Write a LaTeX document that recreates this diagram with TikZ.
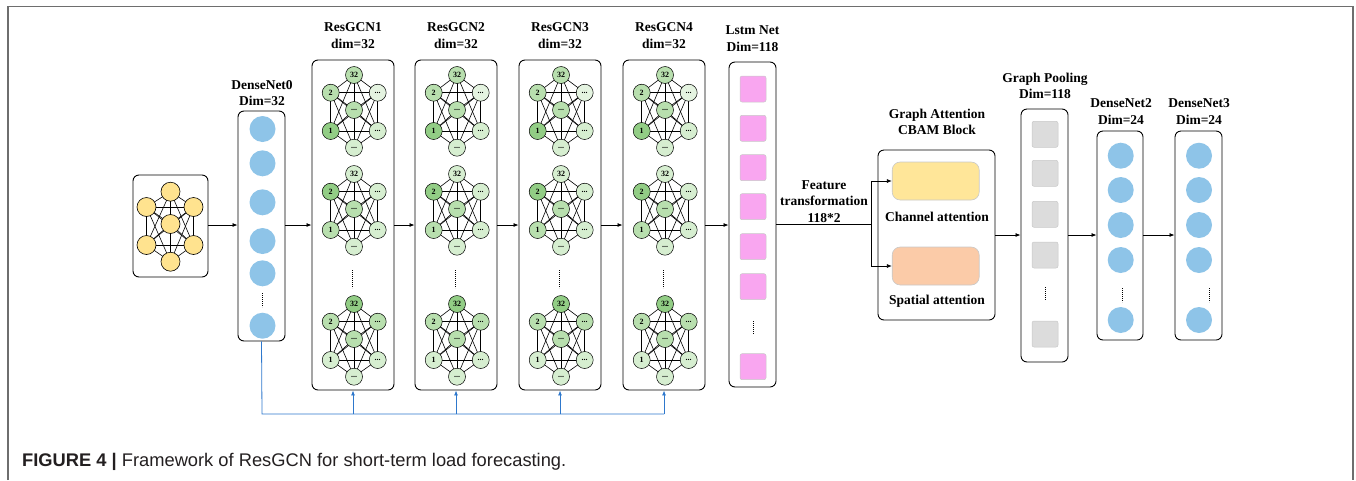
\documentclass[tikz,border=0pt]{standalone}
\usepackage{fontspec}
\setmainfont{Liberation Serif}
\newfontfamily\capfont{Liberation Sans}
\usetikzlibrary{arrows.meta}
\pgfdeclarelayer{bg}
\pgfsetlayers{bg,main}
\definecolor{dblue}{HTML}{8EC4E8}
\definecolor{pinkq}{HTML}{F9A6F0}
\definecolor{grayq}{HTML}{DCDCDC}
\definecolor{qborder}{HTML}{C8C8C8}
\definecolor{ynode}{HTML}{FFE38F}
\definecolor{chfill}{HTML}{FFE699}
\definecolor{spfill}{HTML}{FBCBA8}
\definecolor{gdark}{HTML}{92CD85}
\definecolor{gmid}{HTML}{B8DFAE}
\definecolor{glight}{HTML}{D6EED0}
\definecolor{gvl}{HTML}{E4F3E0}
\definecolor{lblue}{HTML}{2E78CC}
\definecolor{framegray}{HTML}{6E6E6E}
\definecolor{captext}{HTML}{231F20}
\tikzset{
  blk/.style={draw=black, line width=0.9pt, rounded corners=6pt, inner sep=0pt},
  lbl/.style={font=\fontsize{13.5}{16.5}\selectfont\bfseries, align=center, inner sep=0pt},
  dcirc/.style={circle, fill=dblue, minimum size=26pt, inner sep=0pt},
  psq/.style={rectangle, rounded corners=2pt, fill=pinkq, draw=qborder, line width=0.5pt, minimum size=26pt, inner sep=0pt},
  gsq/.style={rectangle, rounded corners=2pt, fill=grayq, draw=qborder, line width=0.5pt, minimum size=26pt, inner sep=0pt},
  gn/.style={circle, draw=black, line width=0.5pt, minimum size=17pt, inner sep=0pt, font=\fontsize{8}{8}\selectfont\bfseries},
  yn/.style={circle, draw=black, line width=0.6pt, fill=ynode, minimum size=19pt, inner sep=0pt},
  gedge/.style={line width=0.6pt, draw=black},
  arr/.style={-{Latex[length=5pt,width=4pt]}, line width=0.8pt},
  barr/.style={-{Latex[length=5pt,width=4pt]}, line width=0.8pt, draw=lblue, fill=lblue},
  vdots/.style={line width=0.8pt, dash pattern=on 0.8pt off 1.2pt},
  attbox/.style={rectangle, rounded corners=8pt, draw=qborder, line width=0.6pt, minimum width=87pt, minimum height=38pt, inner sep=0pt},
}
\newcommand\gcng[9]{%
  \begin{scope}[shift={(#2,#3)}]
    \node[gn,fill=#4] (#1t) at (0,0) {32};
    \node[gn,fill=#5] (#1a) at (-23.3,17.7) {2};
    \node[gn,fill=#6] (#1b) at (23.7,17.7) {...};
    \node[gn,fill=#7] (#1c) at (0,35) {...};
    \node[gn,fill=#8] (#1d) at (-23.3,56) {1};
    \node[gn,fill=#9] (#1e) at (23.7,56) {...};
    \node[gn,fill=glight] (#1f) at (0,72.7) {...};
  \end{scope}
  \begin{pgfonlayer}{bg}
    \foreach \u/\v in {t/a,t/b,t/c,t/d,t/e,a/b,a/c,a/d,a/e,a/f,b/c,b/d,b/e,b/f,c/d,c/e,c/f,d/e,d/f,e/f}
      \draw[gedge] (#1\u.center) -- (#1\v.center);
  \end{pgfonlayer}}
\newcommand\gcnblock[2]{%
  \gcng{#1g1}{#2+1}{75}{gmid}{gmid}{gvl}{gmid}{gdark}{glight}
  \gcng{#1g2}{#2+1}{174}{glight}{gdark}{glight}{gmid}{gmid}{glight}
  \gcng{#1g3}{#2+1}{304}{gdark}{gmid}{gmid}{gmid}{glight}{glight}
  \draw[vdots] ({#2-1},270) -- ({#2-1},288);}
\begin{document}
\begin{tikzpicture}[x=1pt,y=-1pt]
\useasboundingbox (0,0) rectangle (1356,480);
% outer frame
\draw[framegray, line width=1.3pt] (8,480) -- (8,6.5) -- (1353,6.5) -- (1353,480);

% input graph
\node[blk, minimum width=75pt, minimum height=102pt] (in) at (170.5,226) {};
\begin{scope}[shift={(170.5,191.7)}]
  \node[yn] (yt) at (0,0) {};
  \node[yn] (ya) at (-24,15.3) {};
  \node[yn] (yb) at (23,15.3) {};
  \node[yn] (yc) at (0,32.3) {};
  \node[yn] (yd) at (-24,53.3) {};
  \node[yn] (ye) at (23,53.3) {};
  \node[yn] (yf) at (0,70) {};
\end{scope}
\begin{pgfonlayer}{bg}
  \foreach \u/\v in {t/a,t/b,t/c,t/d,t/e,a/b,a/c,a/d,a/e,a/f,b/c,b/d,b/e,b/f,c/d,c/e,c/f,d/e,d/f,e/f}
    \draw[gedge] (y\u.center) -- (y\v.center);
\end{pgfonlayer}

% DenseNet0
\node[lbl] (d0l) at (262,93) {DenseNet0\\Dim=32};
\node[blk, minimum width=47pt, minimum height=230pt] (d0) at (261.5,226) {};
\foreach \yy [count=\i] in {129,163.3,202.3,241,273.3,325.7}
  \node[dcirc] (d0c\i) at (262.5,\yy) {};
\draw[vdots] (262.5,293) -- (262.5,307);

% ResGCN blocks
\foreach \cx/\k in {353/1,456/2,560/3,664/4}{
  \node[lbl] (r\k l) at (\cx,35.5) {ResGCN\k\\dim=32};
  \node[blk, minimum width=82pt, minimum height=330pt] (r\k) at (\cx,225) {};
}
\gcnblock{ra}{353}
\gcnblock{rb}{456}
\gcnblock{rc}{560}
\gcnblock{rd}{664}

% Lstm
\node[lbl] (lsl) at (752.5,38.5) {Lstm Net\\Dim=118};
\node[blk, minimum width=47pt, minimum height=325pt] (ls) at (752.5,224.5) {};
\foreach \yy [count=\i] in {89,128.3,167.7,206.7,246.7,286.7,366.7}
  \node[psq] (lsq\i) at (753,\yy) {};
\draw[vdots] (753,321) -- (753,334);

% left arrows
\draw[arr] (in.east |- 0,225) -- (d0.west |- 0,225);
\draw[arr] (d0.east |- 0,225) -- (r1.west |- 0,225);
\draw[arr] (r1.east |- 0,225) -- (r2.west |- 0,225);
\draw[arr] (r2.east |- 0,225) -- (r3.west |- 0,225);
\draw[arr] (r3.east |- 0,225) -- (r4.west |- 0,225);
\draw[arr] (r4.east |- 0,225) -- (ls.west |- 0,225);

% blue skip connections
\coordinate (bl) at (262,414);
\coordinate (b1) at (353,414);
\coordinate (b2) at (456,414);
\coordinate (b3) at (560,414);
\coordinate (b4) at (664,414);
\draw[lblue, line width=0.8pt] (d0.south) -- (bl) -- (b4);
\draw[barr] (b1) -- (r1.south);
\draw[barr] (b2) -- (r2.south);
\draw[barr] (b3) -- (r3.south);
\draw[barr] (b4) -- (r4.south);

% Feature transformation
\node[lbl] (ftl) at (824,201.5) {Feature\\transformation\\118*2};
\coordinate (fj) at (871,224.5);
\node[lbl] (cbl) at (937,122) {Graph Attention\\CBAM Block};
\node[blk, minimum width=117pt, minimum height=170pt] (cb) at (936.5,235) {};
\node[attbox, fill=chfill] (ch) at (935.7,181) {};
\node[attbox, fill=spfill] (sp) at (935.7,266) {};
\node[lbl] (chl) at (937,216.7) {Channel attention};
\node[lbl] (spl) at (937,301.7) {Spatial attention};
\draw[line width=0.8pt] (ls.east |- fj) -- (fj);
\draw[arr] (fj) |- (ch.west);
\draw[arr] (fj) |- (sp.west);

% Graph pooling
\node[lbl] (gpl) at (1045,86) {Graph Pooling\\Dim=118};
\node[blk, minimum width=47pt, minimum height=253pt] (gp) at (1044.5,235.5) {};
\foreach \yy [count=\i] in {134.3,173.3,214.3,255,334}
  \node[gsq] (gsq\i) at (1045,\yy) {};
\draw[vdots] (1045,287) -- (1045,300);

% DenseNet2 / 3
\node[lbl] (d2l) at (1121,111.7) {DenseNet2\\Dim=24};
\node[blk, minimum width=46pt, minimum height=209pt] (d2) at (1120,235.5) {};
\foreach \yy [count=\i] in {155.7,190,225,260,320}
  \node[dcirc] (d2c\i) at (1120.7,\yy) {};
\draw[vdots] (1122,288) -- (1122,302);
\node[lbl] (d3l) at (1199,111.7) {DenseNet3\\Dim=24};
\node[blk, minimum width=47pt, minimum height=209pt] (d3) at (1198.5,235.5) {};
\foreach \yy [count=\i] in {155.7,190,225,260,320}
  \node[dcirc] (d3c\i) at (1199,\yy) {};
\draw[vdots] (1209,288) -- (1209,302);

\draw[arr] (cb.east |- 0,235) -- (gp.west |- 0,235);
\draw[arr] (gp.east |- 0,235) -- (d2.west |- 0,235);
\draw[arr] (d2.east |- 0,235) -- (d3.west |- 0,235);

% caption
\node[anchor=base west, inner sep=0pt, text=captext, font=\capfont\fontsize{18.3}{21}\selectfont] (cap) at (22,466.5) {\textbf{FIGURE 4 |} Framework of ResGCN for short-term load forecasting.};
\end{tikzpicture}
\end{document}
